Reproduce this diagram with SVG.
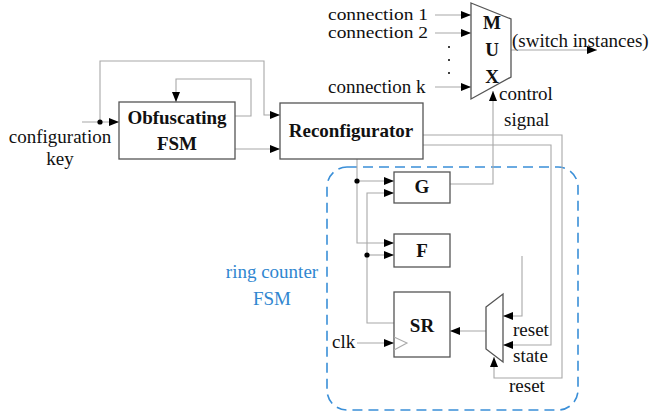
<svg xmlns="http://www.w3.org/2000/svg" width="654" height="412" viewBox="0 0 654 412">
  <defs>
    <marker id="arr" viewBox="0 0 10 8" refX="10" refY="4" markerWidth="10" markerHeight="8" markerUnits="userSpaceOnUse" orient="auto">
      <path d="M0,0 L10,4 L0,8 z" fill="#000"/>
    </marker>
  </defs>
  <style>
    .box { fill: #fff; stroke: #555; stroke-width: 1.3; }
    .wire { fill: none; stroke: #a8a8a8; stroke-width: 1.1; }
    .arrow { marker-end: url(#arr); }
    .dot { fill: #000; }
    .t { font-family: "Liberation Serif", "Times New Roman", serif; font-size: 19px; fill: #111; }
    .s { font-size: 17px; }
    .b { font-weight: bold; text-anchor: middle; }
    .blue { fill: #2f86d0; text-anchor: middle; }
    .ring { fill: none; stroke: #3a8fd8; stroke-width: 1.6; stroke-dasharray: 10 6; }
  </style>

  <rect id="ring-counter" class="ring" x="327" y="167" width="251" height="243" rx="20"/>

  <g id="connectors">
    <path class="wire arrow" d="M82,122 H119"/>
    <path class="wire arrow" d="M100,122 V61 H264 V115 H280"/>
    <path class="wire arrow" d="M235,116 H251 V79 H176 V102"/>
    <path class="wire arrow" d="M235,149 H280"/>
    <path class="wire arrow" d="M423,135 H562 V378 H494 V357"/>
    <path class="wire arrow" d="M423,145 H551 V345 H503"/>
    <path class="wire arrow" d="M522,256 V316 H503"/>
    <path class="wire arrow" d="M486,331 H450"/>
    <path class="wire arrow" d="M357,343 H394"/>
    <path class="wire arrow" d="M357,159 V243 H394"/>
    <path class="wire arrow" d="M357,181 H394"/>
    <path class="wire arrow" d="M394,323 H367 V193 H394"/>
    <path class="wire arrow" d="M367,255 H394"/>
    <path class="wire arrow" d="M450,184 H493 V91"/>
    <path class="wire arrow" d="M435,15 H471"/>
    <path class="wire arrow" d="M435,33 H471"/>
    <path class="wire arrow" d="M435,87 H471"/>
    <path class="wire arrow" d="M511,50 H597"/>
    <circle class="dot" cx="100" cy="122" r="2.6"/>
    <circle class="dot" cx="357" cy="181" r="2.6"/>
    <circle class="dot" cx="367" cy="255" r="2.6"/>
    <circle class="dot" cx="449" cy="47" r="1"/>
    <circle class="dot" cx="449" cy="60" r="1"/>
    <circle class="dot" cx="449" cy="73" r="1"/>
  </g>

  <g id="config-key">
    <text class="t" x="60" y="143" text-anchor="middle">configuration</text>
    <text class="t" x="60" y="165" text-anchor="middle">key</text>
  </g>

  <g id="obfuscating-fsm">
    <rect class="box" x="119" y="102" width="116" height="57"/>
    <text class="t b" x="177" y="124">Obfuscating</text>
    <text class="t b" x="177" y="150">FSM</text>
  </g>

  <g id="reconfigurator">
    <rect class="box" x="280" y="103" width="143" height="56"/>
    <text class="t b" x="351" y="137">Reconfigurator</text>
  </g>

  <g id="mux">
    <polygon class="box" points="471,3 511,19 511,77 471,99"/>
    <text class="t b" x="492" y="29">M</text>
    <text class="t b" x="492" y="56">U</text>
    <text class="t b" x="492" y="83">X</text>
  </g>

  <g id="mux-labels">
    <text class="t s" x="328" y="20" textLength="100" lengthAdjust="spacingAndGlyphs">connection 1</text>
    <text class="t s" x="328" y="38" textLength="100" lengthAdjust="spacingAndGlyphs">connection 2</text>
    <text class="t" x="328" y="93">connection k</text>
    <text class="t" x="512" y="47">(switch instances)</text>
    <text class="t" x="499" y="100">control</text>
    <text class="t" x="504" y="126">signal</text>
  </g>

  <g id="g-block">
    <rect class="box" x="394" y="172" width="56" height="31"/>
    <text class="t b" x="422" y="193">G</text>
  </g>

  <g id="f-block">
    <rect class="box" x="394" y="234" width="56" height="33"/>
    <text class="t b" x="422" y="257">F</text>
  </g>

  <g id="sr-block">
    <rect class="box" x="394" y="292" width="56" height="65"/>
    <polyline fill="none" stroke="#aaa" stroke-width="1.1" points="394,337 407,343 394,350"/>
    <text class="t b" x="422" y="332">SR</text>
    <text class="t" x="332" y="348">clk</text>
  </g>

  <g id="state-mux">
    <polygon class="box" points="486,307 503,294 503,362 486,349"/>
    <text class="t" x="513" y="336">reset</text>
    <text class="t" x="513" y="362">state</text>
    <text class="t" x="509" y="392">reset</text>
  </g>

  <g id="ring-label">
    <text class="t blue" x="272" y="278">ring counter</text>
    <text class="t blue" x="272" y="305">FSM</text>
  </g>
</svg>
